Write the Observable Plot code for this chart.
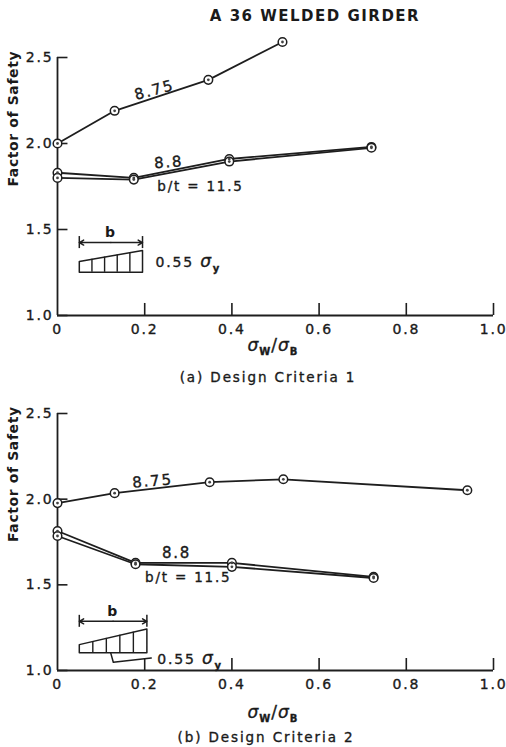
<!DOCTYPE html>
<html><head><meta charset="utf-8">
<script src="https://cdn.jsdelivr.net/npm/d3@7"></script>
<script src="https://cdn.jsdelivr.net/npm/@observablehq/plot@0.6"></script>
<style>
body{margin:0;background:#fff;}
#wrap{position:relative;width:506px;height:747px;overflow:hidden;font-family:"DejaVu Sans",sans-serif;color:#1a1a1a;background:#fff;}
.abs{position:absolute;white-space:nowrap;transform:translate(-50%,-50%);line-height:1;-webkit-text-stroke:0.35px #1a1a1a;}
.title{font-weight:bold;font-size:15px;letter-spacing:1.5px;-webkit-text-stroke:0;}
.xlab{font-size:17px;letter-spacing:1px;}
.xlab sub{font-size:10px;font-weight:bold;vertical-align:-4px;}
.cap{font-size:13.5px;letter-spacing:1.9px;}
#wrap svg{position:absolute;left:0;}
#wrap svg text{letter-spacing:1.8px;stroke:#1a1a1a;stroke-width:0.35px;}
</style></head><body><div id="wrap"></div>
<script>
// ---------- data ----------
const xTicks = [0, 0.2, 0.4, 0.6, 0.8, 1.0];
const yTicks = [1.0, 1.5, 2.0, 2.5];
const seriesNames = ["8.75", "8.8", "11.5"];

// (a) Design Criteria 1
const aX875 = [0, 0.131, 0.346, 0.516];
const aY875 = [2.00, 2.19, 2.37, 2.59];
const aX88  = [0, 0.175, 0.394, 0.72];
const aY88  = [1.83, 1.80, 1.91, 1.98];
const aX115 = [0, 0.175, 0.394, 0.72];
const aY115 = [1.80, 1.79, 1.895, 1.975];

// (b) Design Criteria 2
const bX875 = [0, 0.131, 0.349, 0.518, 0.94];
const bY875 = [1.977, 2.035, 2.099, 2.116, 2.052];
const bX88  = [0, 0.179, 0.40, 0.725];
const bY88  = [1.814, 1.628, 1.628, 1.547];
const bX115 = [0, 0.179, 0.40, 0.725];
const bY115 = [1.785, 1.62, 1.605, 1.54];

// series labels [text, x, y, rotate]
const aLabels = [["8.75", 0.222, 2.31, -15], ["8.8", 0.255, 1.89, -4], ["b/t = 11.5", 0.328, 1.75, 0]];
const bLabels = [["8.75", 0.218, 2.105, -5], ["8.8", 0.273, 1.686, 0], ["b/t = 11.5", 0.30, 1.541, 0]];

// inset stress-block sketch (data units)
const aInset = {x0: 0.05, x1: 0.195, dimY: 1.424, bY: 1.48, base: 1.251, topL: 1.314, topR: 1.378, labX: 0.225, labY: 1.31, leader: null};
const bInset = {x0: 0.05, x1: 0.205, dimY: 1.287, bY: 1.345, base: 1.103, topL: 1.151, topR: 1.242, labX: 0.229, labY: 1.064,
  leader: [[0.122, 1.103], [0.128, 1.048], [0.215, 1.073]]};

// ---------- build ----------
function rows(xs, ys, name) { return xs.map((x, i) => ({x, y: ys[i], s: name})); }

function panel(data, labels, inset, geo) {
  const ink = "#1e1e1e";
  const n = 5;
  const divs = d3.range(1, n).map(i => {
    const x = inset.x0 + (inset.x1 - inset.x0) * i / n;
    return {x, y1: inset.base, y2: inset.topL + (inset.topR - inset.topL) * i / n};
  });
  const poly = [[inset.x0, inset.base], [inset.x0, inset.topL], [inset.x1, inset.topR], [inset.x1, inset.base], [inset.x0, inset.base]];
  const mid = (inset.x0 + inset.x1) / 2;
  const marks = [
    Plot.ruleX([0], {stroke: ink, strokeWidth: 1.8}),
    Plot.ruleY([1], {stroke: ink, strokeWidth: 1.8}),
    Plot.ruleX(xTicks.filter(d => d > 0), {x: d => d, y1: 1, y2: geo.xt, stroke: ink, strokeWidth: 1.6}),
    Plot.ruleY(yTicks, {y: d => d, x1: 0, x2: 0.024, stroke: ink, strokeWidth: 1.6}),
    Plot.axisX({ticks: xTicks, tickSize: 0, tickPadding: 9, label: null, tickFormat: d => d === 0 ? "0" : d.toFixed(1), fontSize: 14}),
    Plot.axisY({ticks: yTicks, tickSize: 0, tickPadding: 4, label: null, tickFormat: d => d.toFixed(1), fontSize: 14}),
    Plot.text(["Factor of Safety"], {frameAnchor: "left", dx: -44, rotate: -90, fontWeight: "bold", fontSize: 14}),
    Plot.line(data, {x: "x", y: "y", z: "s", stroke: ink, strokeWidth: 1.8}),
    Plot.dot(data, {x: "x", y: "y", r: 4.3, fill: "white", stroke: ink, strokeWidth: 1.5}),
    Plot.dot(data, {x: "x", y: "y", r: 1.4, fill: "#444"}),
    Plot.text(labels, {x: d => d[1], y: d => d[2], text: d => d[0], rotate: d => d[3], fontSize: d => d[0].length > 4 ? 13.5 : 15}),
    Plot.arrow([0], {x1: mid, y1: inset.dimY, x2: inset.x0, y2: inset.dimY, headLength: 5, stroke: ink, strokeWidth: 1.5}),
    Plot.arrow([0], {x1: mid, y1: inset.dimY, x2: inset.x1, y2: inset.dimY, headLength: 5, stroke: ink, strokeWidth: 1.5}),
    Plot.ruleX([inset.x0, inset.x1], {x: d => d, y1: inset.dimY - 0.035, y2: inset.dimY + 0.035, stroke: ink, strokeWidth: 1.5}),
    Plot.text(["b"], {x: mid, y: inset.bY, fontWeight: "bold", fontSize: 14}),
    Plot.line(poly, {x: d => d[0], y: d => d[1], stroke: ink, strokeWidth: 1.5}),
    Plot.ruleX(divs, {x: "x", y1: "y1", y2: "y2", stroke: ink, strokeWidth: 1.4}),
    Plot.text(["0.55 σy"], {x: inset.labX, y: inset.labY, textAnchor: "start", fontSize: 14})
  ];
  if (inset.leader) marks.push(Plot.line(inset.leader, {x: d => d[0], y: d => d[1], stroke: ink, strokeWidth: 1.5}));
  const svg = Plot.plot({
    width: 506, height: geo.h,
    marginLeft: 57, marginRight: 13, marginTop: geo.mt, marginBottom: geo.mb,
    x: {domain: [0, 1]},
    y: {domain: [1, 2.5]},
    style: {fontFamily: "DejaVu Sans, sans-serif", fontSize: "14px", color: "#1a1a1a", background: "transparent", overflow: "visible"},
    marks
  });
  d3.select(svg).selectAll("text").each(function () {
    if (this.textContent === "0.55 σy") {
      this.textContent = "";
      d3.select(this).append("tspan").text("0.55 ").attr("font-size", 14);
      d3.select(this).append("tspan").text("σ").attr("font-size", 17).attr("font-style", "italic");
      d3.select(this).append("tspan").text("y").attr("font-size", 10).attr("font-weight", "bold").attr("dy", 5);
    }
    if (this.textContent === "Factor of Safety") { this.style.letterSpacing = "0.6px"; this.style.strokeWidth = "0"; }
    if (this.textContent === "b") this.style.strokeWidth = "0";
  });
  svg.style.top = geo.top + "px";
  return svg;
}

const wrap = document.getElementById("wrap");
function html(cls, x, y, content) {
  const d = document.createElement("div");
  d.className = "abs " + cls;
  d.style.left = x + "px"; d.style.top = y + "px";
  d.innerHTML = content;
  wrap.appendChild(d);
}

const dataA = [...rows(aX875, aY875, seriesNames[0]), ...rows(aX88, aY88, seriesNames[1]), ...rows(aX115, aY115, seriesNames[2])];
const dataB = [...rows(bX875, bY875, seriesNames[0]), ...rows(bX88, bY88, seriesNames[1]), ...rows(bX115, bY115, seriesNames[2])];

wrap.appendChild(panel(dataA, aLabels, aInset, {top: 0, h: 340, mt: 57, mb: 25, xt: 1.07}));
wrap.appendChild(panel(dataB, bLabels, bInset, {top: 380, h: 310, mt: 33, mb: 20, xt: 1.07}));

const xlab = '<i>σ</i><sub>W</sub>/<i>σ</i><sub>B</sub>';
html("title", 315, 16, "A 36 WELDED GIRDER");
html("xlab", 273, 347, xlab);
html("cap", 268, 378, "(a) Design Criteria 1");
html("xlab", 273, 714, xlab);
html("cap", 266, 738, "(b) Design Criteria 2");
</script></body></html>
